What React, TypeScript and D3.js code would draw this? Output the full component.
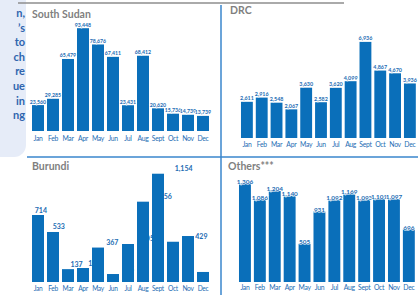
import * as d3 from 'd3';
import { useEffect, useRef } from 'react';

const months = ['Jan', 'Feb', 'Mar', 'Apr', 'May', 'Jun', 'Jul', 'Aug', 'Sept', 'Oct', 'Nov', 'Dec'];
const southSudanValues = [23560, 29285, 65479, 93448, 78676, 67411, 23431, 68412, 20620, 15736, 14739, 13739];
const drcValues = [2611, 2916, 2548, 2067, 3630, 2582, 3620, 4099, 6936, 4867, 4670, 3936];
const burundiValues = [714, 533, 137, 149, 367, 85, 405, 856, 1154, 429, 490, 107];
const othersValues = [1306, 1086, 1204, 1140, 505, 931, 1092, 1169, 1093, 1101, 1097, 696];
const sideText = ['n,', '’s', 'to', 'ch', 're', 'ue', 'in', 'ng'];

const BAR = '#0A6FBA';
const LABEL = '#1C6CB3';
const DIVIDER = '#3A86CC';
const FONT = 'Lato, "Liberation Sans", sans-serif';

type PanelCfg = {
  id: string;
  title: string;
  values: number[];
  titleX: number;
  titleY: number;
  left: number;
  right: number;
  base: number;
  max: number;
  top: number;
  monthY: number;
  monthSize: number;
  labelSize: number;
  labelDy: number;
  clip: [number, number, number, number];
  labelRange?: [number, number]; // source chart's labels drift right of the bars
};

const panels: PanelCfg[] = [
  { id: 'ss', title: 'South Sudan', values: southSudanValues, titleX: 32, titleY: 18, left: 30.5, right: 210.5, base: 131, max: 100000, top: 21, monthY: 141, monthSize: 6.8, labelSize: 5.2, labelDy: -1.5, clip: [27, 5, 192, 151] },
  { id: 'drc', title: 'DRC', values: drcValues, titleX: 230, titleY: 14, left: 239.5, right: 417.3, base: 138, max: 7000, top: 41, monthY: 146.5, monthSize: 6.8, labelSize: 5.4, labelDy: -1.5, clip: [222, 5, 196, 151] },
  { id: 'bu', title: 'Burundi', values: burundiValues, titleX: 32, titleY: 170, left: 30.5, right: 210.5, base: 282, max: 1200, top: 169.4, monthY: 291, monthSize: 6.6, labelSize: 7, labelDy: -2.5, clip: [27, 158, 192, 137], labelRange: [32, 246] },
  { id: 'oth', title: 'Others***', values: othersValues, titleX: 228, titleY: 170, left: 237.5, right: 416.3, base: 282, max: 1400, top: 176, monthY: 290, monthSize: 6.8, labelSize: 6.4, labelDy: 0.5, clip: [222, 158, 196, 137] },
];

const App = () => {
  const svgRef = useRef<any>();
  const width = 418;
  const height = 295;

  useEffect(() => {
    const svg = d3.select(svgRef.current);
    svg.selectAll('*').remove();
    const fmt = d3.format(',');

    // left text box, mostly cut off
    svg.append('rect').attr('x', -20).attr('y', -20).attr('width', 46).attr('height', 177).attr('rx', 12).attr('fill', '#E6ECF8');
    svg
      .selectAll('text.side')
      .data(sideText)
      .enter()
      .append('text')
      .attr('class', 'side')
      .attr('x', 25)
      .attr('y', (d, i) => 17 + i * 14.6)
      .attr('text-anchor', 'end')
      .attr('font-family', FONT)
      .attr('font-size', 11)
      .attr('font-weight', 700)
      .attr('fill', '#2F64AE')
      .text((d) => d);

    // frame lines
    svg.append('line').attr('x1', 18).attr('x2', 344).attr('y1', 3).attr('y2', 3).attr('stroke', '#8E8E8E').attr('stroke-width', 1.5);
    svg.append('line').attr('x1', 221).attr('x2', 221).attr('y1', 5).attr('y2', 295).attr('stroke', DIVIDER).attr('stroke-width', 1.5);
    svg.append('line').attr('x1', 27).attr('x2', 418).attr('y1', 157).attr('y2', 157).attr('stroke', DIVIDER).attr('stroke-width', 1.5);

    panels.forEach((p) => {
      const [cx, cy, cw, ch] = p.clip;
      svg.append('clipPath').attr('id', 'clip-' + p.id).append('rect').attr('x', cx).attr('y', cy).attr('width', cw).attr('height', ch);
      const g = svg.append('g').attr('clip-path', `url(#clip-${p.id})`);

      const x = d3.scaleBand().domain(months).range([p.left, p.right]).paddingInner(0.2).paddingOuter(0.1);
      const y = d3.scaleLinear().domain([0, p.max]).range([p.base, p.top]);
      const lx = p.labelRange
        ? d3.scaleBand().domain(months).range(p.labelRange).paddingInner(0.2).paddingOuter(0.1)
        : x;
      const labelX = (i: number) => (lx(months[i]) as number) + lx.bandwidth() / 2;

      g.append('text')
        .attr('x', p.titleX)
        .attr('y', p.titleY)
        .attr('font-family', FONT)
        .attr('font-size', 10.5)
        .attr('font-weight', 700)
        .attr('fill', '#7F7F7F')
        .text(p.title);

      const drawLabels = () =>
        g
          .append('g')
          .selectAll('text')
          .data(p.values.map((v, i) => ({ v, i })).filter((d) => labelX(d.i) + 6 < cx + cw))
          .enter()
          .append('text')
          .attr('x', (d) => labelX(d.i))
          .attr('y', (d) => y(d.v) + p.labelDy)
          .attr('text-anchor', 'middle')
          .attr('font-family', FONT)
          .attr('font-size', p.labelSize)
          .attr('font-weight', 700)
          .attr('fill', LABEL)
          .attr('stroke', '#fff')
          .attr('stroke-width', 1.2)
          .attr('paint-order', 'stroke')
          .text((d) => fmt(d.v));

      if (p.labelRange) drawLabels();

      g.append('g')
        .selectAll('rect')
        .data(p.values)
        .enter()
        .append('rect')
        .attr('x', (d, i) => x(months[i]) as number)
        .attr('width', x.bandwidth())
        .attr('y', (d) => y(d))
        .attr('height', (d) => p.base - y(d))
        .attr('fill', BAR);

      if (!p.labelRange) drawLabels();

      g.append('g')
        .selectAll('text')
        .data(months)
        .enter()
        .append('text')
        .attr('x', (d) => (x(d) as number) + x.bandwidth() / 2)
        .attr('y', p.monthY)
        .attr('text-anchor', 'middle')
        .attr('font-family', FONT)
        .attr('font-size', p.monthSize)
        .attr('letter-spacing', -0.3)
        .attr('fill', LABEL)
        .text((d) => d);
    });
  }, []);

  return (
    <svg
      ref={svgRef}
      width={width}
      height={height}
      style={{ position: 'absolute', left: 0, top: 0, background: '#fff' }}
    />
  );
};

export default App;
